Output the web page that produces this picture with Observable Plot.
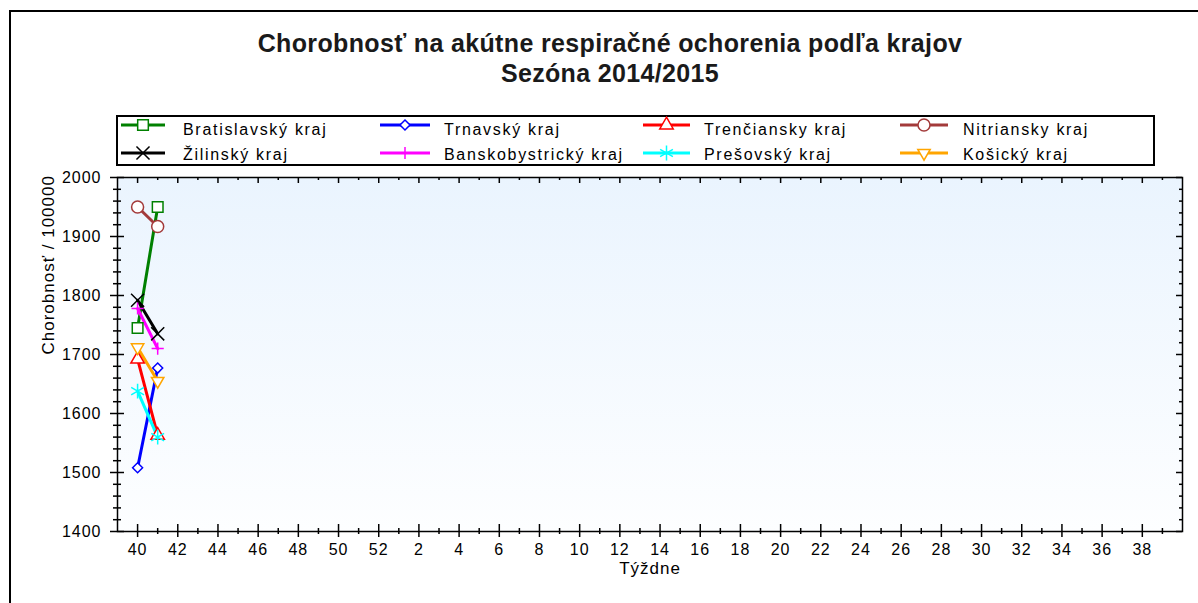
<!DOCTYPE html>
<html><head><meta charset="utf-8">
<script src="https://cdn.jsdelivr.net/npm/d3@7"></script>
<script src="https://cdn.jsdelivr.net/npm/@observablehq/plot@0.6"></script>
<style>
body{margin:0;background:#fff;}
#wrap{position:relative;width:1198px;height:603px;overflow:hidden;font-family:"Liberation Sans",Arial,sans-serif;}
#chart{position:absolute;left:0;top:0;}
#frame{position:absolute;left:9px;top:10px;width:1300px;height:800px;border-left:2px solid #000;border-top:2px solid #000;pointer-events:none;}
#title{position:absolute;left:110px;width:1000px;top:28px;text-align:center;font-weight:bold;font-size:25px;letter-spacing:0.35px;line-height:30px;color:#1a1a1a;white-space:nowrap;}
#legend{position:absolute;left:0;top:0;}
</style></head><body>
<div id="wrap">
  <div id="chart"></div>
  <div id="frame"></div>
  <div id="title">Chorobnosť na akútne respiračné ochorenia podľa krajov<br>Sezóna 2014/2015</div>
  <svg id="legend" width="1198" height="180"></svg>
</div>
<script>
// Week sequence of the season (x positions are indices into this list)
const weekLabels = [40,41,42,43,44,45,46,47,48,49,50,51,52,1,2,3,4,5,6,7,8,9,10,11,12,13,14,15,16,17,18,19,20,21,22,23,24,25,26,27,28,29,30,31,32,33,34,35,36,37,38,39];
const xTickWeeks = [40,42,44,46,48,50,52,2,4,6,8,10,12,14,16,18,20,22,24,26,28,30,32,34,36,38];
const yTicks = [1400,1500,1600,1700,1800,1900,2000];
const yMinorTicks = [1420,1440,1460,1480,1520,1540,1560,1580,1620,1640,1660,1680,1720,1740,1760,1780,1820,1840,1860,1880,1920,1940,1960,1980];

const weeks = [40, 41];
const bratislavsky    = [1745, 1950];
const trnavsky        = [1508, 1677];
const trenciansky     = [1692, 1563];
const nitriansky      = [1950, 1917];
const zilinsky        = [1792, 1735];
const banskobystricky = [1778, 1710];
const presovsky       = [1638, 1560];
const kosicky         = [1712, 1655];

const regionNames = ["Bratislavský kraj","Trnavský kraj","Trenčiansky kraj","Nitriansky kraj","Žilinský kraj","Banskobystrický kraj","Prešovský kraj","Košický kraj"];
const regionValues = [bratislavsky, trnavsky, trenciansky, nitriansky, zilinsky, banskobystricky, presovsky, kosicky];
const regionColors = ["#008000","#0000ff","#ff0000","#a33a3a","#000000","#ff00ff","#00ffff","#ffa500"];
const regionSymbols = ["square","diamond2","triangle","circle","times","plus","asterisk","triangle"];
const regionRotate = [0,0,0,0,0,0,0,180];
const regionR = [6,4.5,5,6,6,4,7,4.6];
const regionFilled = [true,true,true,true,false,false,false,true];

const series = regionNames.map((name, k) => ({
  name, color: regionColors[k], symbol: regionSymbols[k], rotate: regionRotate[k], r: regionR[k], open: regionFilled[k],
  rows: weeks.map((w, i) => ({region: name, x: weekLabels.indexOf(w), y: regionValues[k][i]}))
}));

const xMajor = xTickWeeks.map(w => weekLabels.indexOf(w));
const xMinor = weekLabels.map((w, i) => i).filter(i => !xMajor.includes(i));

function background(index, scales, values, dims) {
  const g = d3.create("svg:g");
  const lg = g.append("defs").append("linearGradient").attr("id", "bgGrad")
    .attr("x1", 0).attr("y1", 0).attr("x2", 0).attr("y2", 1);
  lg.append("stop").attr("offset", "0%").attr("stop-color", "#eaf4fe");
  lg.append("stop").attr("offset", "100%").attr("stop-color", "#fdfeff");
  g.append("rect")
    .attr("x", dims.marginLeft).attr("y", dims.marginTop)
    .attr("width", dims.width - dims.marginLeft - dims.marginRight)
    .attr("height", dims.height - dims.marginTop - dims.marginBottom)
    .attr("fill", "url(#bgGrad)");
  return g.node();
}

const marks = [
  background,
  Plot.ruleX(xMajor, {x: d => d, y1: 1400, y2: 1400, insetTop: -7, insetBottom: -6, stroke: "#000", strokeWidth: 1.5}),
  Plot.ruleX(xMinor, {x: d => d, y1: 1400, y2: 1400, insetTop: -3, insetBottom: -3, stroke: "#000", strokeWidth: 1.5}),
  Plot.ruleX(xMajor, {x: d => d, y1: 2000, y2: 2000, insetTop: 0, insetBottom: -6, stroke: "#000", strokeWidth: 1.5}),
  Plot.ruleX(xMinor, {x: d => d, y1: 2000, y2: 2000, insetTop: 0, insetBottom: -3, stroke: "#000", strokeWidth: 1.5}),
  Plot.ruleY(yTicks, {y: d => d, x1: -1, x2: -1, insetLeft: -7, insetRight: -7, stroke: "#000", strokeWidth: 1.5}),
  Plot.ruleY(yMinorTicks, {y: d => d, x1: -1, x2: -1, insetLeft: -4, insetRight: -4, stroke: "#000", strokeWidth: 1.5}),
  Plot.ruleY(yTicks, {y: d => d, x1: 52, x2: 52, insetLeft: -6, insetRight: 0, stroke: "#000", strokeWidth: 1.5}),
  Plot.ruleY(yMinorTicks, {y: d => d, x1: 52, x2: 52, insetLeft: -3, insetRight: 0, stroke: "#000", strokeWidth: 1.5}),
  Plot.frame({stroke: "#000", strokeWidth: 1.5}),
  Plot.axisX({ticks: xMajor, tickFormat: i => String(weekLabels[i]), tickSize: 0, tickPadding: 12, label: null, fontSize: 16}),
  Plot.axisY({ticks: yTicks, tickFormat: d => String(d), tickSize: 0, tickPadding: 16, label: null, fontSize: 16}),
  Plot.text(["Týždne"], {frameAnchor: "bottom", dy: 42, text: d => d, fontSize: 17}),
  Plot.text(["Chorobnosť / 100000"], {frameAnchor: "left", dx: -69, rotate: -90, text: d => d, fontSize: 17})
];
for (const s of series) {
  marks.push(Plot.line(s.rows, {x: "x", y: "y", stroke: s.color, strokeWidth: 3}));
}
for (const s of series) {
  marks.push(Plot.dot(s.rows, {x: "x", y: "y", symbol: s.symbol, r: s.r, rotate: s.rotate, stroke: s.color, strokeWidth: 1.5, fill: s.open ? "#ffffff" : "none"}));
}

const chart = Plot.plot({
  width: 1198, height: 603,
  marginLeft: 117, marginRight: 16, marginTop: 177, marginBottom: 72,
  style: {fontFamily: "'Liberation Sans', Arial, sans-serif", fontSize: "16px", color: "#000", background: "transparent", letterSpacing: "1px"},
  x: {domain: [-1, 52]},
  y: {domain: [1400, 2000]},
  marks
});
document.getElementById("chart").appendChild(chart);

// Legend
const symbolMap = {square: d3.symbolSquare, diamond2: d3.symbolDiamond2, triangle: d3.symbolTriangle, circle: d3.symbolCircle, times: d3.symbolTimes, plus: d3.symbolPlus, asterisk: d3.symbolAsterisk};
const leg = d3.select("#legend");
leg.append("rect").attr("x", 117).attr("y", 116).attr("width", 1037).attr("height", 49)
  .attr("fill", "#fff").attr("stroke", "#000").attr("stroke-width", 2);
const colLine = [[121,165],[380,430],[643,690],[900,948]];
const colText = [183, 444, 704, 963];
const rowLineY = [125, 153];
const rowTextY = [135, 160];
series.forEach((s, k) => {
  const row = Math.floor(k / 4), col = k % 4;
  const [a, b] = colLine[col];
  const ly = rowLineY[row];
  leg.append("line").attr("x1", a).attr("x2", b).attr("y1", ly).attr("y2", ly).attr("stroke", s.color).attr("stroke-width", 3);
  leg.append("path").attr("d", d3.symbol(symbolMap[s.symbol], Math.PI * s.r * s.r)())
    .attr("transform", `translate(${(a + b) / 2},${ly}) rotate(${s.rotate})`)
    .attr("fill", s.open ? "#fff" : "none").attr("stroke", s.color).attr("stroke-width", 1.5);
  leg.append("text").attr("x", colText[col]).attr("y", rowTextY[row]).text(s.name)
    .attr("font-family", "'Liberation Sans', Arial, sans-serif").attr("font-size", 16).attr("letter-spacing", "1.7px").attr("fill", "#000");
});
</script>
</body></html>
